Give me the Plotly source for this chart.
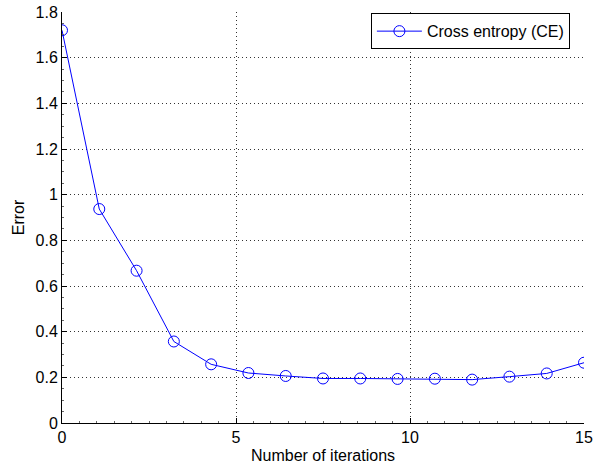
import plotly.graph_objects as go

iterations = [0, 1.071, 2.143, 3.214, 4.286, 5.357, 6.429, 7.5, 8.571, 9.643, 10.714, 11.786, 12.857, 13.929, 15]
ce_error = [1.72, 0.937, 0.667, 0.357, 0.257, 0.219, 0.206, 0.195, 0.195, 0.193, 0.194, 0.190, 0.203, 0.217, 0.264]
series_name = "Cross entropy (CE)"
x_ticks = [0, 5, 10, 15]
y_ticks = [0, 0.2, 0.4, 0.6, 0.8, 1, 1.2, 1.4, 1.6, 1.8]
y_tick_labels = ["0", "0.2", "0.4", "0.6", "0.8", "1", "1.2", "1.4", "1.6", "1.8"]

fig = go.Figure()
fig.add_trace(go.Scatter(
    x=iterations, y=ce_error, mode="lines+markers", name=series_name,
    line=dict(color="#0000ff", width=1),
    marker=dict(symbol="circle-open", size=11, color="#0000ff", line=dict(width=1)),
))

fam = "Liberation Sans, Arial, sans-serif"
font = dict(family=fam, size=16, color="black")
grid_dash = "1px,3px"
fig.update_layout(
    width=595, height=470,
    margin=dict(l=62, r=11, t=12, b=47),
    paper_bgcolor="white", plot_bgcolor="white",
    font=font,
    showlegend=True,
    legend=dict(x=0.973, y=0.997, xanchor="right", yanchor="top",
                bgcolor="white", bordercolor="black", borderwidth=1,
                font=dict(family=fam, size=16),
                tracegroupgap=0, itemwidth=45),
    xaxis=dict(range=[0, 15], tickvals=x_ticks, ticks="inside", ticklen=5,
               tickcolor="black", showline=True, linecolor="black", linewidth=1,
               mirror=False, showgrid=True, gridcolor="#333333", griddash=grid_dash,
               gridwidth=1, zeroline=False, automargin=False,
               tickfont=dict(family=fam, size=16),
               minor=dict(dtick=0.5, ticks="inside", ticklen=2, tickcolor="#666666", showgrid=False),
               title=dict(text="Number of iterations", font=dict(family=fam, size=16), standoff=4)),
    yaxis=dict(range=[0, 1.8], tickvals=y_ticks, ticktext=y_tick_labels, ticks="inside",
               ticklen=5, tickcolor="black", showline=True, linecolor="black", linewidth=1,
               mirror=False, showgrid=True, gridcolor="#333333", griddash=grid_dash,
               gridwidth=1, zeroline=False, automargin=False,
               tickfont=dict(family=fam, size=16),
               minor=dict(dtick=0.05, ticks="inside", ticklen=2, tickcolor="#666666", showgrid=False),
               title=dict(text="Error", font=dict(family=fam, size=16), standoff=6)),
)
fig.write_html("out.html", config={"displayModeBar": False},
               post_script="document.body.style.margin='0';document.body.style.overflow='hidden';")
